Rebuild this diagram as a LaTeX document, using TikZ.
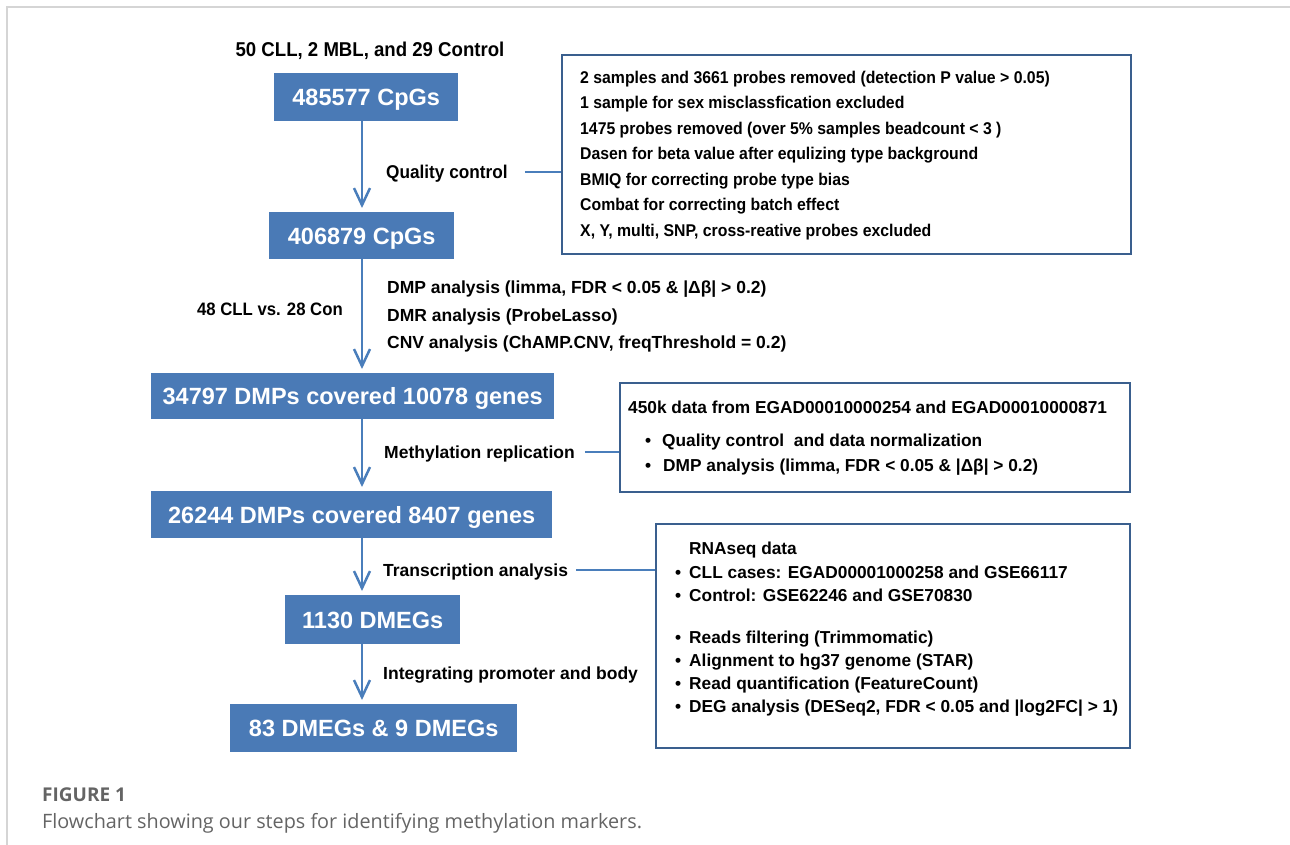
\documentclass[tikz,border=0pt]{standalone}
\usepackage{fontspec}
\setmainfont{Liberation Sans}
\newfontfamily\narrowf{Liberation Sans}[FakeStretch=0.93]
\newfontfamily\capf{Open Sans}
\usetikzlibrary{arrows.meta}
\definecolor{boxblue}{HTML}{4A7AB6}
\definecolor{lineblue}{HTML}{4A7EBB}
\definecolor{frameblue}{HTML}{3A5F8E}
\definecolor{framegrey}{HTML}{D5D5D5}
\definecolor{capgrey}{HTML}{646464}
\begin{document}
\begin{tikzpicture}[x=1pt,y=-1pt,
  captxt/.style={inner sep=0pt,text depth=0pt},
  bluebox/.style={captxt,text height=16.8pt,fill=boxblue,text=white,anchor=north west,
    font=\fontsize{23.5}{23.5}\selectfont\bfseries},
  infobox/.style={draw=frameblue,line width=2pt,fill=white,anchor=north west,inner sep=0pt},
  narrowlbl/.style={captxt,text height=13.2pt,font=\fontsize{18.5}{18.5}\narrowf\bfseries},
  steplbl/.style={captxt,text height=12.5pt,anchor=west,font=\fontsize{17.5}{17.5}\selectfont\bfseries},
  boxtxt/.style={captxt,text height=12.2pt,anchor=west,font=\fontsize{17}{17}\narrowf\bfseries},
  rtxt/.style={captxt,text height=12.4pt,anchor=west,font=\fontsize{17.3}{17.3}\selectfont\bfseries},
  arr/.style={draw=lineblue,line width=2.5pt,-{Straight Barb[length=17pt,width=16pt]},shorten >=4pt},
  conn/.style={draw=lineblue,line width=2.5pt}
]
\useasboundingbox (0,0) rectangle (1290,845);
\draw[framegrey,line width=1.5pt] (7,845) -- (7,7) -- (1290,7);

% blue step boxes
\node[bluebox,minimum width=184pt,minimum height=48pt] (b1) at (274,73) {485577 CpGs};
\node[bluebox,minimum width=185pt,minimum height=47pt] (b2) at (269,212) {406879 CpGs};
\node[bluebox,minimum width=403pt,minimum height=46pt] (b3) at (151,373) {34797 DMPs covered 10078 genes};
\node[bluebox,minimum width=401pt,minimum height=47pt] (b4) at (151,491) {26244 DMPs covered 8407 genes};
\node[bluebox,minimum width=175pt,minimum height=49pt] (b5) at (285,595) {1130 DMEGs};
\node[bluebox,minimum width=287pt,minimum height=48pt] (b6) at (230,704) {83 DMEGs \& 9 DMEGs};

\coordinate (ax) at (362,0);

% arrows
\draw[arr] (b1.south -| ax) -- (b2.north -| ax);
\draw[arr] (b2.south -| ax) -- (b3.north -| ax);
\draw[arr] (b3.south -| ax) -- (b4.north -| ax);
\draw[arr] (b4.south -| ax) -- (b5.north -| ax);
\draw[arr] (b5.south -| ax) -- (b6.north -| ax);

% labels
\node[narrowlbl,text height=14.3pt,font=\fontsize{20}{20}\narrowf\bfseries] (top) at (370,49) {50 CLL, 2 MBL, and 29 Control};
\node[narrowlbl,anchor=west] (qc) at (386,172) {Quality control};
\node[narrowlbl,anchor=east,text height=12.9pt,font=\fontsize{18}{18}\narrowf\bfseries] (cmp) at (343,309) {48 CLL vs. 28 Con};
\node[steplbl] (dmp) at (387,287) {DMP analysis (limma, FDR < 0.05 \& |Δβ| > 0.2)};
\node[steplbl] (dmr) at (387,315) {DMR analysis (ProbeLasso)};
\node[steplbl] (cnv) at (387,342) {CNV analysis (ChAMP.CNV, freqThreshold = 0.2)};
\node[steplbl] (mr) at (384,452) {Methylation replication};
\node[steplbl] (ta) at (383,570) {Transcription analysis};
\node[steplbl] (ip) at (383,673) {Integrating promoter and body};

% info boxes
\node[infobox,minimum width=569pt,minimum height=199pt] (rb1) at (561,54) {};
\node[infobox,minimum width=510pt,minimum height=109pt] (rb2) at (619,382) {};
\node[infobox,minimum width=474pt,minimum height=224pt] (rb3) at (655,523) {};

% connectors
\draw[conn] ([xshift=17pt]qc.east) -- (qc.east -| rb1.west);
\draw[conn] ([xshift=10pt]mr.east) -- (mr.east -| rb2.west);
\draw[conn] ([xshift=8pt]ta.east) -- (ta.east -| rb3.west);

% box 1 text
\node[boxtxt] (t11) at (580,77) {2 samples and 3661 probes removed (detection P value > 0.05)};
\node[boxtxt] (t12) at (580,102) {1 sample for sex misclassfication excluded};
\node[boxtxt] (t13) at (580,128) {1475 probes removed (over 5\% samples beadcount < 3 )};
\node[boxtxt] (t14) at (580,153) {Dasen for beta value after equlizing type background};
\node[boxtxt] (t15) at (580,179) {BMIQ for correcting probe type bias};
\node[boxtxt] (t16) at (580,204) {Combat for correcting batch effect};
\node[boxtxt] (t17) at (580,230) {X, Y, multi, SNP, cross-reative probes excluded};

% box 2 text
\node[rtxt] (t21) at (628,407) {450k data from EGAD00010000254 and EGAD00010000871};
\node[rtxt] (u22) at (645,440) {•};
\node[rtxt] (t22) at (662,440) {Quality control~ and data normalization};
\node[rtxt] (u23) at (645,465) {•};
\node[rtxt] (t23) at (663,465) {DMP analysis (limma, FDR < 0.05 \& |Δβ| > 0.2)};

% box 3 text
\node[rtxt] (t31) at (689,548) {RNAseq data};
\node[rtxt] (u32) at (675,572) {•};
\node[rtxt] (t32) at (689,572) {CLL cases: EGAD00001000258 and GSE66117};
\node[rtxt] (u33) at (675,595) {•};
\node[rtxt] (t33) at (689,595) {Control: GSE62246 and GSE70830};
\node[rtxt] (u34) at (675,637) {•};
\node[rtxt] (t34) at (689,637) {Reads filtering (Trimmomatic)};
\node[rtxt] (u35) at (675,660) {•};
\node[rtxt] (t35) at (689,660) {Alignment to hg37 genome (STAR)};
\node[rtxt] (u36) at (675,683) {•};
\node[rtxt] (t36) at (689,683) {Read quantification (FeatureCount)};
\node[rtxt] (u37) at (675,706) {•};
\node[rtxt] (t37) at (689,706) {DEG analysis (DESeq2, FDR < 0.05 and |log2FC| > 1)};

% caption
\node[captxt,text height=13.5pt,anchor=west,text=capgrey,font=\fontsize{19}{19}\capf\bfseries] (fig) at (42,795) {FIGURE 1};
\node[captxt,text height=14pt,anchor=west,text=capgrey,font=\fontsize{19.8}{19.8}\capf] (capt) at (42,821) {Flowchart showing our steps for identifying methylation markers.};
\end{tikzpicture}
\end{document}
